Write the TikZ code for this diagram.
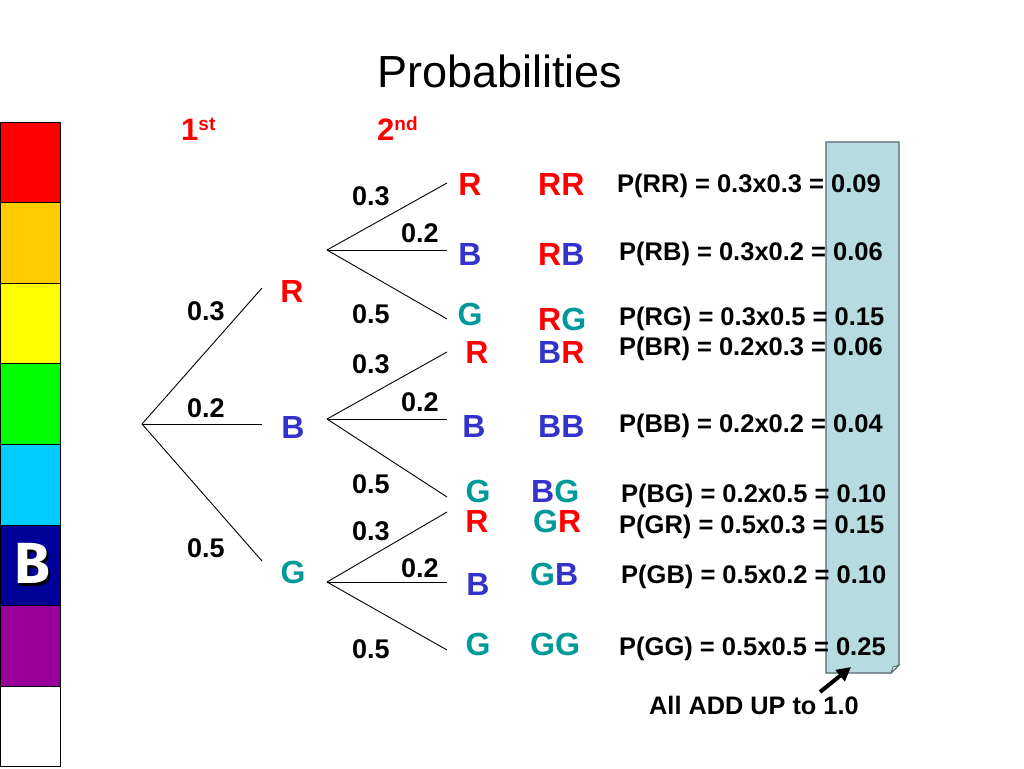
\documentclass[tikz,border=0pt]{standalone}
\usepackage{fontspec}
\setmainfont{Liberation Sans}
\newfontfamily\Bfont{Fira Sans}
\usetikzlibrary{arrows.meta}
\definecolor{cR}{HTML}{FF0000}
\definecolor{cB}{HTML}{3333CC}
\definecolor{cG}{HTML}{009999}
\definecolor{bRed}{HTML}{FF0000}
\definecolor{bOrange}{HTML}{FFCC00}
\definecolor{bYellow}{HTML}{FFFF00}
\definecolor{bGreen}{HTML}{00FF00}
\definecolor{bCyan}{HTML}{00CCFF}
\definecolor{bNavy}{HTML}{000099}
\definecolor{bPurple}{HTML}{990099}
\definecolor{bWhite}{HTML}{FFFFFF}
\definecolor{noteFill}{HTML}{B6DCE1}
\definecolor{noteEdge}{HTML}{56676C}
\definecolor{foldFill}{HTML}{DCEEF0}
\begin{document}
\begin{tikzpicture}[x=1pt,y=-1pt,
  lbl/.style={inner sep=0pt, anchor=base, font=\fontsize{32}{36}\selectfont\bfseries},
  pair/.style={inner sep=0pt, anchor=base west, font=\fontsize{32}{36}\selectfont\bfseries},
  num/.style={inner sep=0pt, anchor=base west, font=\fontsize{27}{30}\selectfont\bfseries},
  prob/.style={inner sep=0pt, anchor=base west, font=\fontsize{25.5}{30}\selectfont\bfseries},
  branch/.style={draw=black, line width=0.9pt},
  barbox/.style={draw=black, line width=0.8pt},
  hdr/.style={inner sep=0pt, anchor=base west, text=cR, font=\fontsize{31}{36}\selectfont\bfseries}]
\useasboundingbox (0,0) rectangle (1024,768);

% colour bar
\foreach \c [count=\i from 0] in {bRed,bOrange,bYellow,bGreen,bCyan,bNavy,bPurple,bWhite}
  \filldraw[barbox, fill=\c] (0,{122+80.6*\i}) rectangle (60,{122+80.6*(\i+1)});
\node[inner sep=0pt, font=\Bfont\bfseries\fontsize{58}{60}\selectfont] (Bletter) at (32,565)
  {\makebox[0pt][l]{\hspace{2.5pt}\raisebox{-2.5pt}{\textcolor{black}{B}}}\textcolor{white}{B}};

% note box
\filldraw[fill=noteFill, draw=noteEdge, line width=1.2pt]
  (826,142) -- (899,142) -- (899,665) -- (891,673) -- (826,673) -- cycle;
\filldraw[fill=foldFill, draw=noteEdge, line width=0.8pt]
  (899,665) -- (891,673) -- (893,667) -- cycle;

% title and headers
\node[inner sep=0pt, anchor=base west, font=\fontsize{45}{50}\selectfont] (title) at (377,87) {Probabilities};
\node[hdr] (first) at (181,140) {1\raisebox{10pt}{\fontsize{19}{20}\selectfont st}};
\node[hdr] (second) at (377,140) {2\raisebox{10pt}{\fontsize{19}{20}\selectfont nd}};

% tree coordinates
\coordinate (root) at (142,424);
\coordinate (eR) at (262,288);
\coordinate (eB) at (262,424);
\coordinate (eG) at (262,561);
\coordinate (kR) at (327,250);
\coordinate (kB) at (327,419);
\coordinate (kG) at (327,582);
\coordinate (lRR) at (447,183);
\coordinate (lRB) at (447,250);
\coordinate (lRG) at (447,319);
\coordinate (lBR) at (447,352);
\coordinate (lBB) at (447,419);
\coordinate (lBG) at (447,497);
\coordinate (lGR) at (447,512);
\coordinate (lGB) at (447,582);
\coordinate (lGG) at (447,650);

\draw[branch] (root) -- (eR);
\draw[branch] (root) -- (eB);
\draw[branch] (root) -- (eG);
\draw[branch] (kR) -- (lRR);
\draw[branch] (kR) -- (lRB);
\draw[branch] (kR) -- (lRG);
\draw[branch] (kB) -- (lBR);
\draw[branch] (kB) -- (lBB);
\draw[branch] (kB) -- (lBG);
\draw[branch] (kG) -- (lGR);
\draw[branch] (kG) -- (lGB);
\draw[branch] (kG) -- (lGG);

% first level letters
\node[lbl, text=cR] (R1) at (292,302) {R};
\node[lbl, text=cB] (B1) at (293,438) {B};
\node[lbl, text=cG] (G1) at (293,583) {G};

% first level numbers
\node[num] (n1a) at (187,320) {0.3};
\node[num] (n1b) at (187,417) {0.2};
\node[num] (n1c) at (187,557) {0.5};

% second level numbers
\node[num] (nRa) at (352,205) {0.3};
\node[num] (nRb) at (401,242) {0.2};
\node[num] (nRc) at (352,323) {0.5};
\node[num] (nBa) at (352,373) {0.3};
\node[num] (nBb) at (401,411) {0.2};
\node[num] (nBc) at (352,493) {0.5};
\node[num] (nGa) at (352,540) {0.3};
\node[num] (nGb) at (401,577) {0.2};
\node[num] (nGc) at (352,658) {0.5};

% second level letters
\node[lbl, text=cR] (sRR) at (470,195) {R};
\node[lbl, text=cB] (sRB) at (470,265) {B};
\node[lbl, text=cG] (sRG) at (470,325) {G};
\node[lbl, text=cR] (sBR) at (477,363) {R};
\node[lbl, text=cB] (sBB) at (474,437) {B};
\node[lbl, text=cG] (sBG) at (478,502) {G};
\node[lbl, text=cR] (sGR) at (477,532) {R};
\node[lbl, text=cB] (sGB) at (478,595) {B};
\node[lbl, text=cG] (sGG) at (478,655) {G};

% pair labels
\node[pair] (pRR) at (538,195) {\textcolor{cR}{RR}};
\node[pair] (pRB) at (538,265) {\textcolor{cR}{R}\textcolor{cB}{B}};
\node[pair] (pRG) at (538,330) {\textcolor{cR}{R}\textcolor{cG}{G}};
\node[pair] (pBR) at (538,363) {\textcolor{cB}{B}\textcolor{cR}{R}};
\node[pair] (pBB) at (538,437) {\textcolor{cB}{BB}};
\node[pair] (pBG) at (531,502) {\textcolor{cB}{B}\textcolor{cG}{G}};
\node[pair] (pGR) at (533,532) {\textcolor{cG}{G}\textcolor{cR}{R}};
\node[pair] (pGB) at (530,585) {\textcolor{cG}{G}\textcolor{cB}{B}};
\node[pair] (pGG) at (530,655) {\textcolor{cG}{GG}};

% probabilities
\node[prob] (qRR) at (617,192) {P(RR) = 0.3x0.3 = 0.09};
\node[prob] (qRB) at (619,260) {P(RB) = 0.3x0.2 = 0.06};
\node[prob] (qRG) at (619,325) {P(RG) = 0.3x0.5 = 0.15};
\node[prob] (qBR) at (619,355) {P(BR) = 0.2x0.3 = 0.06};
\node[prob] (qBB) at (619,432) {P(BB) = 0.2x0.2 = 0.04};
\node[prob] (qBG) at (621,502) {P(BG) = 0.2x0.5 = 0.10};
\node[prob] (qGR) at (619,533) {P(GR) = 0.5x0.3 = 0.15};
\node[prob] (qGB) at (621,583) {P(GB) = 0.5x0.2 = 0.10};
\node[prob] (qGG) at (619,655) {P(GG) = 0.5x0.5 = 0.25};

% note
\node[inner sep=0pt, anchor=base west, font=\fontsize{25.3}{28}\selectfont\bfseries] (sum) at (649,714) {All ADD UP to 1.0};
\coordinate (aS) at (820,692);
\coordinate (aE) at (851,667);
\draw[line width=4pt, -{Triangle[length=14pt,width=14pt]}] (aS) -- (aE);
\end{tikzpicture}
\end{document}
